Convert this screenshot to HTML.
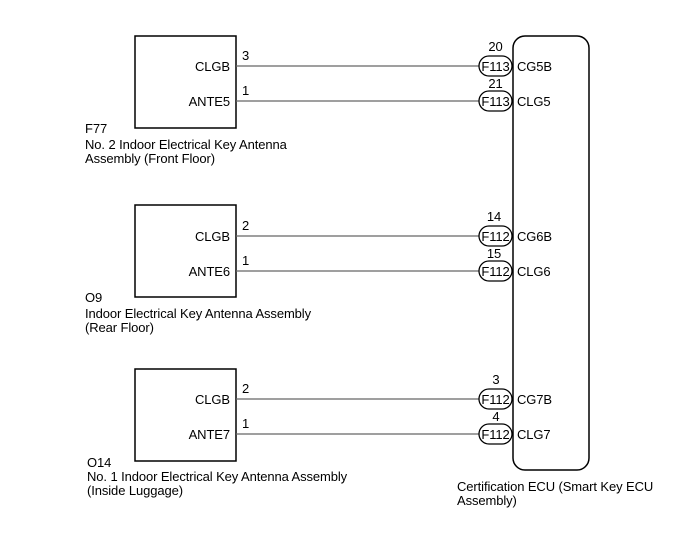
<!DOCTYPE html>
<html><head><meta charset="utf-8"><style>
html,body{margin:0;padding:0;background:#fff;}
svg{display:block;}
text{font-family:"Liberation Sans",Arial,sans-serif;font-size:13px;fill:#000;letter-spacing:-0.1px;}
</style></head><body>
<svg width="688" height="560" viewBox="0 0 688 560" xmlns="http://www.w3.org/2000/svg">
<rect x="513" y="36" width="76" height="434" rx="12" ry="12" fill="none" stroke="#000" stroke-width="1.5"/>
<text x="457" y="491">Certification ECU (Smart Key ECU</text>
<text x="457" y="505">Assembly)</text>

<rect x="135" y="36" width="101" height="92" fill="none" stroke="#000" stroke-width="1.5"/>
<text x="230" y="71" text-anchor="end">CLGB</text>
<text x="230" y="106" text-anchor="end">ANTE5</text>
<text x="242" y="60">3</text>
<text x="242" y="95">1</text>
<line x1="236" y1="66" x2="479" y2="66" stroke="#666" stroke-width="1.3"/>
<line x1="236" y1="101" x2="479" y2="101" stroke="#666" stroke-width="1.3"/>
<rect x="479" y="56" width="33" height="20" rx="10" fill="#fff" stroke="#000" stroke-width="1.3"/>
<rect x="479" y="91" width="33" height="20" rx="10" fill="#fff" stroke="#000" stroke-width="1.3"/>
<text x="495.5" y="71" text-anchor="middle">F113</text>
<text x="495.5" y="106" text-anchor="middle">F113</text>
<text x="495.5" y="51" text-anchor="middle">20</text>
<text x="495.5" y="88" text-anchor="middle">21</text>
<text x="517" y="71">CG5B</text>
<text x="517" y="106">CLG5</text>
<text x="85" y="133">F77</text>
<text x="85" y="149">No. 2 Indoor Electrical Key Antenna</text>
<text x="85" y="163">Assembly (Front Floor)</text>

<rect x="135" y="205" width="101" height="92" fill="none" stroke="#000" stroke-width="1.5"/>
<text x="230" y="241" text-anchor="end">CLGB</text>
<text x="230" y="276" text-anchor="end">ANTE6</text>
<text x="242" y="230">2</text>
<text x="242" y="265">1</text>
<line x1="236" y1="236" x2="479" y2="236" stroke="#666" stroke-width="1.3"/>
<line x1="236" y1="271" x2="479" y2="271" stroke="#666" stroke-width="1.3"/>
<rect x="479" y="226" width="33" height="20" rx="10" fill="#fff" stroke="#000" stroke-width="1.3"/>
<rect x="479" y="261" width="33" height="20" rx="10" fill="#fff" stroke="#000" stroke-width="1.3"/>
<text x="495.5" y="241" text-anchor="middle">F112</text>
<text x="495.5" y="276" text-anchor="middle">F112</text>
<text x="494" y="221" text-anchor="middle">14</text>
<text x="494" y="258" text-anchor="middle">15</text>
<text x="517" y="241">CG6B</text>
<text x="517" y="276">CLG6</text>
<text x="85" y="302">O9</text>
<text x="85" y="318">Indoor Electrical Key Antenna Assembly</text>
<text x="85" y="332">(Rear Floor)</text>

<rect x="135" y="369" width="101" height="92" fill="none" stroke="#000" stroke-width="1.5"/>
<text x="230" y="404" text-anchor="end">CLGB</text>
<text x="230" y="439" text-anchor="end">ANTE7</text>
<text x="242" y="393">2</text>
<text x="242" y="428">1</text>
<line x1="236" y1="399" x2="479" y2="399" stroke="#666" stroke-width="1.3"/>
<line x1="236" y1="434" x2="479" y2="434" stroke="#666" stroke-width="1.3"/>
<rect x="479" y="389" width="33" height="20" rx="10" fill="#fff" stroke="#000" stroke-width="1.3"/>
<rect x="479" y="424" width="33" height="20" rx="10" fill="#fff" stroke="#000" stroke-width="1.3"/>
<text x="495.5" y="404" text-anchor="middle">F112</text>
<text x="495.5" y="439" text-anchor="middle">F112</text>
<text x="496" y="384" text-anchor="middle">3</text>
<text x="496" y="421" text-anchor="middle">4</text>
<text x="517" y="404">CG7B</text>
<text x="517" y="439">CLG7</text>
<text x="87" y="467">O14</text>
<text x="87" y="481">No. 1 Indoor Electrical Key Antenna Assembly</text>
<text x="87" y="495">(Inside Luggage)</text>
</svg>
</body></html>
